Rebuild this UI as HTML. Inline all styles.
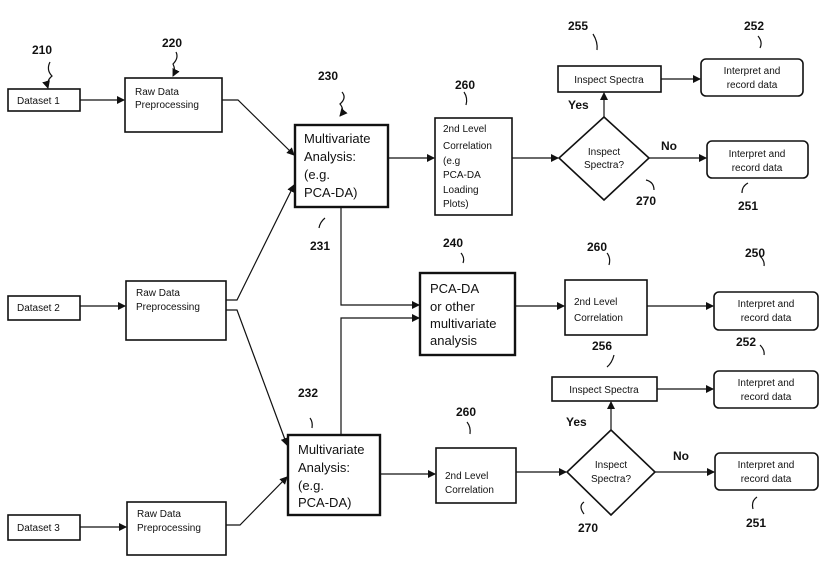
<!DOCTYPE html>
<html><head><style>
body{margin:0;background:#fff}
svg text{font-family:"Liberation Sans",sans-serif;fill:#111}
.b{font-weight:bold;font-size:12px}
.s{font-size:10px}
.m{font-size:13px}
</style></head><body>
<svg width="827" height="561" viewBox="0 0 827 561" xmlns="http://www.w3.org/2000/svg">
<defs><marker id="a" markerWidth="8" markerHeight="8" refX="7" refY="4" orient="auto" markerUnits="userSpaceOnUse"><path d="M0,0L8,4L0,8z" fill="#111"/></marker></defs>
<g fill="#fff" stroke="#111" stroke-width="1.6">
<rect x="8" y="89" width="72" height="22"/>
<rect x="125" y="78" width="97" height="54"/>
<rect x="295" y="125" width="93" height="82" stroke-width="2.4"/>
<rect x="435" y="118" width="77" height="97"/>
<path d="M604,117L649,158L604,200L559,158z"/>
<rect x="558" y="66" width="103" height="26"/>
<rect x="701" y="59" width="102" height="37" rx="5"/>
<rect x="707" y="141" width="101" height="37" rx="5"/>
<rect x="8" y="296" width="72" height="24"/>
<rect x="126" y="281" width="100" height="59"/>
<rect x="420" y="273" width="95" height="82" stroke-width="2.4"/>
<rect x="565" y="280" width="82" height="55"/>
<rect x="714" y="292" width="104" height="38" rx="5"/>
<rect x="552" y="377" width="105" height="24"/>
<rect x="714" y="371" width="104" height="37" rx="5"/>
<rect x="8" y="515" width="72" height="25"/>
<rect x="127" y="502" width="99" height="53"/>
<rect x="288" y="435" width="92" height="80" stroke-width="2.4"/>
<rect x="436" y="448" width="80" height="55"/>
<path d="M611,430L655,472L611,515L567,472z"/>
<rect x="715" y="453" width="103" height="37" rx="5"/>
</g>
<g stroke="#111" stroke-width="1.2" fill="none">
<line x1="80" y1="100" x2="124" y2="100" marker-end="url(#a)"/>
<polyline points="222,100 238,100 294,155" marker-end="url(#a)"/>
<polyline points="226,300 237,300 294,185" marker-end="url(#a)"/>
<polyline points="226,310 237,310 287,445" marker-end="url(#a)"/>
<polyline points="226,525 240,525 287,477" marker-end="url(#a)"/>
<line x1="80" y1="306" x2="125" y2="306" marker-end="url(#a)"/>
<line x1="80" y1="527" x2="126" y2="527" marker-end="url(#a)"/>
<polyline points="341,207 341,305 419,305" marker-end="url(#a)"/>
<polyline points="341,435 341,318 419,318" marker-end="url(#a)"/>
<line x1="388" y1="158" x2="434" y2="158" marker-end="url(#a)"/>
<line x1="512" y1="158" x2="558" y2="158" marker-end="url(#a)"/>
<line x1="604" y1="117" x2="604" y2="93" marker-end="url(#a)"/>
<line x1="661" y1="79" x2="700" y2="79" marker-end="url(#a)"/>
<line x1="649" y1="158" x2="706" y2="158" marker-end="url(#a)"/>
<line x1="515" y1="306" x2="564" y2="306" marker-end="url(#a)"/>
<line x1="647" y1="306" x2="713" y2="306" marker-end="url(#a)"/>
<line x1="611" y1="430" x2="611" y2="402" marker-end="url(#a)"/>
<line x1="657" y1="389" x2="713" y2="389" marker-end="url(#a)"/>
<line x1="380" y1="474" x2="435" y2="474" marker-end="url(#a)"/>
<line x1="516" y1="472" x2="566" y2="472" marker-end="url(#a)"/>
<line x1="655" y1="472" x2="714" y2="472" marker-end="url(#a)"/>
<path d="M50,62q-4,8 2,14q-6,5 -4,12" marker-end="url(#a)"/>
<path d="M176,52q3,6 -3,12q3,6 0,12" marker-end="url(#a)"/>
<path d="M342,92q5,6 -2,12q5,6 0,12" marker-end="url(#a)"/>
<path d="M325,218q-5,4 -6,10"/>
<path d="M310,418q3,4 2,10"/>
<path d="M464,92q4,6 2,13"/>
<path d="M593,34q5,8 4,16"/>
<path d="M758,36q5,6 2,12"/>
<path d="M646,180q8,2 8,10"/>
<path d="M748,183q-6,3 -6,10"/>
<path d="M461,253q4,5 2,10"/>
<path d="M607,253q4,5 2,12"/>
<path d="M760,256q5,5 4,10"/>
<path d="M614,355q-2,8 -7,12"/>
<path d="M760,345q5,5 4,10"/>
<path d="M467,422q4,5 3,12"/>
<path d="M584,502q-6,4 0,12"/>
<path d="M757,497q-6,4 -4,12"/>
</g>
<g class="b">
<text x="32" y="54">210</text><text x="162" y="47">220</text><text x="318" y="80">230</text>
<text x="310" y="250">231</text><text x="298" y="397">232</text>
<text x="455" y="89">260</text><text x="568" y="30">255</text><text x="744" y="30">252</text>
<text x="568" y="109">Yes</text><text x="661" y="150">No</text>
<text x="636" y="205">270</text><text x="738" y="210">251</text>
<text x="443" y="247">240</text><text x="587" y="251">260</text><text x="745" y="257">250</text>
<text x="592" y="350">256</text><text x="736" y="346">252</text>
<text x="456" y="416">260</text><text x="566" y="426">Yes</text><text x="673" y="460">No</text>
<text x="578" y="532">270</text><text x="746" y="527">251</text>
</g>
<g class="s">
<text x="17" y="104">Dataset 1</text>
<text x="135" y="95">Raw Data</text><text x="135" y="108">Preprocessing</text>
<text x="609" y="83" text-anchor="middle">Inspect Spectra</text>
<text x="752" y="74" text-anchor="middle">Interpret and</text><text x="752" y="88" text-anchor="middle">record data</text>
<text x="757" y="157" text-anchor="middle">Interpret and</text><text x="757" y="171" text-anchor="middle">record data</text>
<text x="443" y="132">2nd Level</text><text x="443" y="149">Correlation</text><text x="443" y="164">(e.g</text><text x="443" y="178">PCA-DA</text><text x="443" y="193">Loading</text><text x="443" y="207">Plots)</text>
<text x="604" y="155" text-anchor="middle">Inspect</text><text x="604" y="168" text-anchor="middle">Spectra?</text>
<text x="17" y="311">Dataset 2</text>
<text x="136" y="296">Raw Data</text><text x="136" y="310">Preprocessing</text>
<text x="574" y="305">2nd Level</text><text x="574" y="321">Correlation</text>
<text x="766" y="307" text-anchor="middle">Interpret and</text><text x="766" y="321" text-anchor="middle">record data</text>
<text x="604" y="393" text-anchor="middle">Inspect Spectra</text>
<text x="766" y="386" text-anchor="middle">Interpret and</text><text x="766" y="400" text-anchor="middle">record data</text>
<text x="17" y="531">Dataset 3</text>
<text x="137" y="517">Raw Data</text><text x="137" y="531">Preprocessing</text>
<text x="445" y="479">2nd Level</text><text x="445" y="493">Correlation</text>
<text x="611" y="468" text-anchor="middle">Inspect</text><text x="611" y="482" text-anchor="middle">Spectra?</text>
<text x="766" y="468" text-anchor="middle">Interpret and</text><text x="766" y="482" text-anchor="middle">record data</text>
</g>
<g class="m">
<text x="304" y="143">Multivariate</text><text x="304" y="161">Analysis:</text><text x="304" y="179">(e.g.</text><text x="304" y="197">PCA-DA)</text>
<text x="430" y="293">PCA-DA</text><text x="430" y="311">or other</text><text x="430" y="328">multivariate</text><text x="430" y="345">analysis</text>
<text x="298" y="454">Multivariate</text><text x="298" y="472">Analysis:</text><text x="298" y="490">(e.g.</text><text x="298" y="507">PCA-DA)</text>
</g>
</svg>
</body></html>
